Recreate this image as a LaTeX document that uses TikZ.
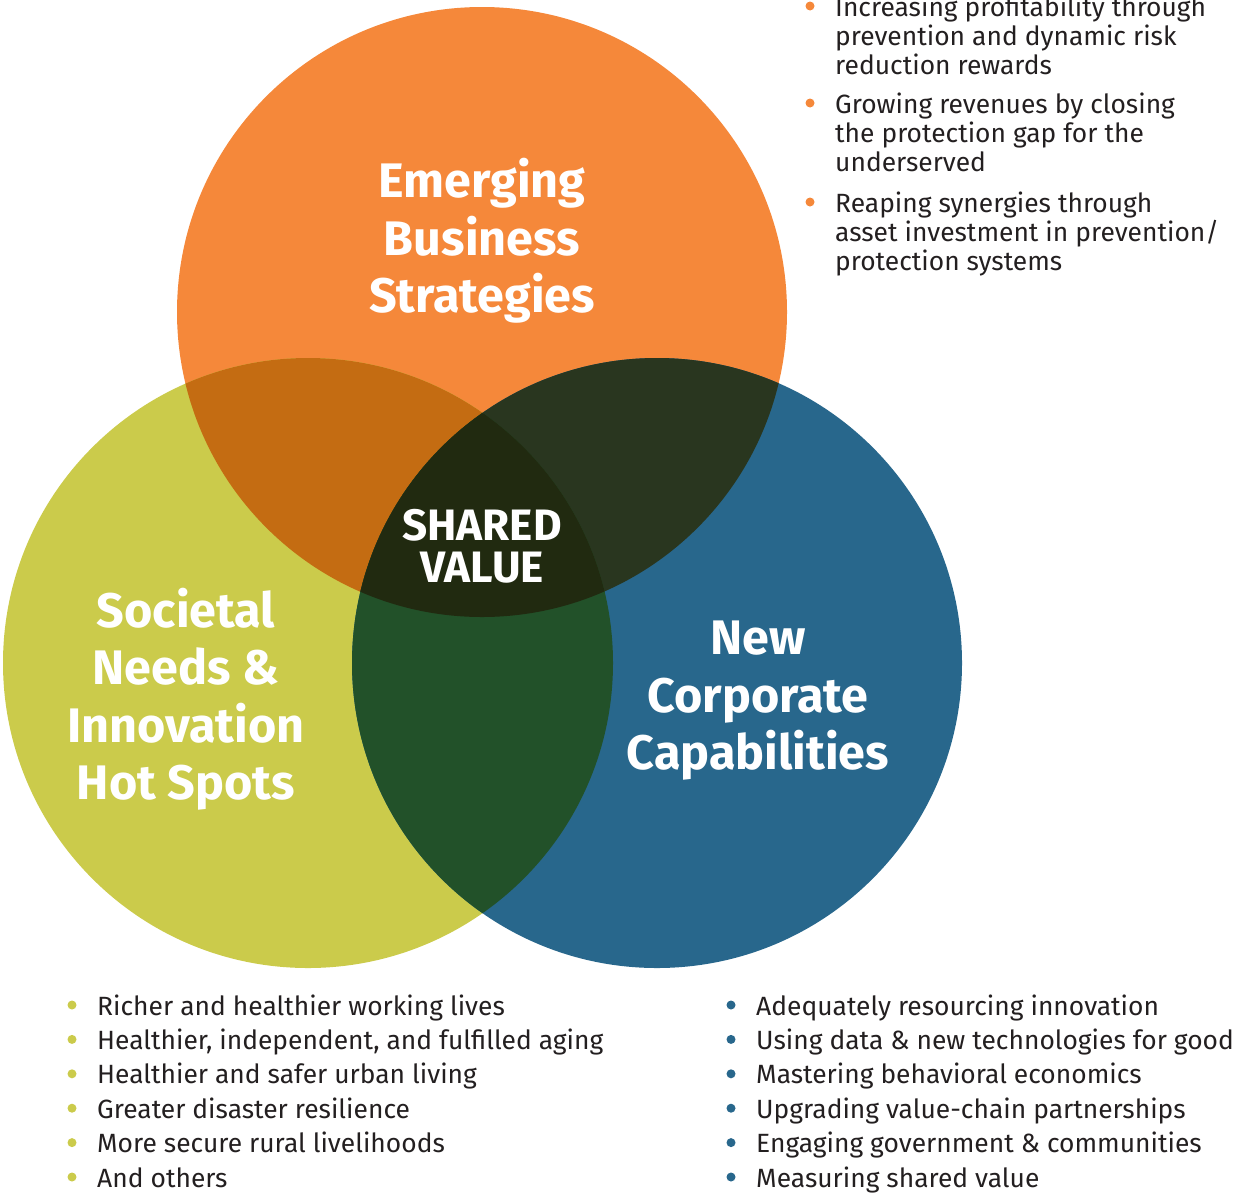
\documentclass[tikz,border=0pt]{standalone}
\usepackage{fontspec}
\setmainfont{Fira Sans}
\usepackage{xcolor}
\usetikzlibrary{positioning}

\definecolor{ebsorange}{HTML}{F5883A}
\definecolor{sngreen}{HTML}{CBCB4B}
\definecolor{ncblue}{HTML}{28678C}
\definecolor{mixog}{HTML}{C46C12}
\definecolor{mixob}{HTML}{29361F}
\definecolor{mixgb}{HTML}{225129}
\definecolor{mixall}{HTML}{212A10}
\definecolor{listtext}{HTML}{231F20}

\tikzset{
  bigtitle/.style={text=white, font=\bfseries\fontsize{48.5}{57.5}\selectfont, align=center},
  svtitle/.style={text=white, font=\bfseries\fontsize{44}{42}\selectfont, align=center},
  bulletdot/.style={circle, fill=#1, inner sep=0pt, minimum size=9pt},
  listline/.style={anchor=base west, inner sep=0pt, text=listtext, font=\fontsize{26.4}{34}\selectfont},
  topitem/.style={anchor=base west, inner sep=0pt, text=listtext, font=\fontsize{26.4}{29.3}\selectfont}
}

\begin{document}
\begin{tikzpicture}[x=1pt,y=-1pt]
    \useasboundingbox (0,0) rectangle (1238,1192);

    % Circles
    \coordinate (cE) at (482,312);
    \coordinate (cS) at (308,663);
    \coordinate (cN) at (657,663);
    \fill[ebsorange] (cE) circle[radius=305];
    \fill[sngreen] (cS) circle[radius=305];
    \fill[ncblue] (cN) circle[radius=305];

    % Overlaps
    \begin{scope}
        \clip (cE) circle[radius=305];
        \fill[mixog] (cS) circle[radius=305];
        \fill[mixob] (cN) circle[radius=305];
    \end{scope}
    \begin{scope}
        \clip (cS) circle[radius=305];
        \fill[mixgb] (cN) circle[radius=305];
        \clip (cN) circle[radius=305];
        \fill[mixall] (cE) circle[radius=305];
    \end{scope}

    % Titles
    \node[bigtitle] (ebs) at (482,241) {Emerging\\Business\\Strategies};
    \node[bigtitle] (snh) at (186,699) {Societal\\Needs \&\\Innovation\\Hot Spots};
    \node[bigtitle] (ncc) at (758,701) {New\\Corporate\\Capabilities};
    \node[svtitle] (sv) at (482,546) {SHARED\\VALUE};

    % Business strategies
    \foreach \yb/\txt [count=\i] in {16/{Increasing profitability through\\prevention and dynamic risk\\reduction rewards},
        113/{Growing revenues by closing\\the protection gap for the\\underserved},
        212/{Reaping synergies through\\asset investment in prevention/\\protection systems}} {
        \node[bulletdot=ebsorange] (eb\i) at (810,\yb-10) {};
        \node[topitem] (et\i) at (835,\yb) {\parbox[t]{420pt}{\raggedright\txt}};
    }

    % Societal needs
    \foreach \txt [count=\i] in {Richer and healthier working lives,
        {Healthier, independent, and fulfilled aging},
        Healthier and safer urban living,
        Greater disaster resilience,
        More secure rural livelihoods,
        And others} {
        \node[bulletdot=sngreen] (sb\i) at (72,1005+34.4*\i-34.4) {};
        \node[listline] (st\i) at (97,1015+34.4*\i-34.4) {\txt};
    }

    % Corporate capabilities
    \foreach \txt [count=\i] in {Adequately resourcing innovation,
        Using data \& new technologies for good,
        Mastering behavioral economics,
        Upgrading value-chain partnerships,
        Engaging government \& communities,
        Measuring shared value} {
        \node[bulletdot=ncblue] (nb\i) at (731,1005+34.4*\i-34.4) {};
        \node[listline] (nt\i) at (756,1015+34.4*\i-34.4) {\txt};
    }
\end{tikzpicture}
\end{document}
